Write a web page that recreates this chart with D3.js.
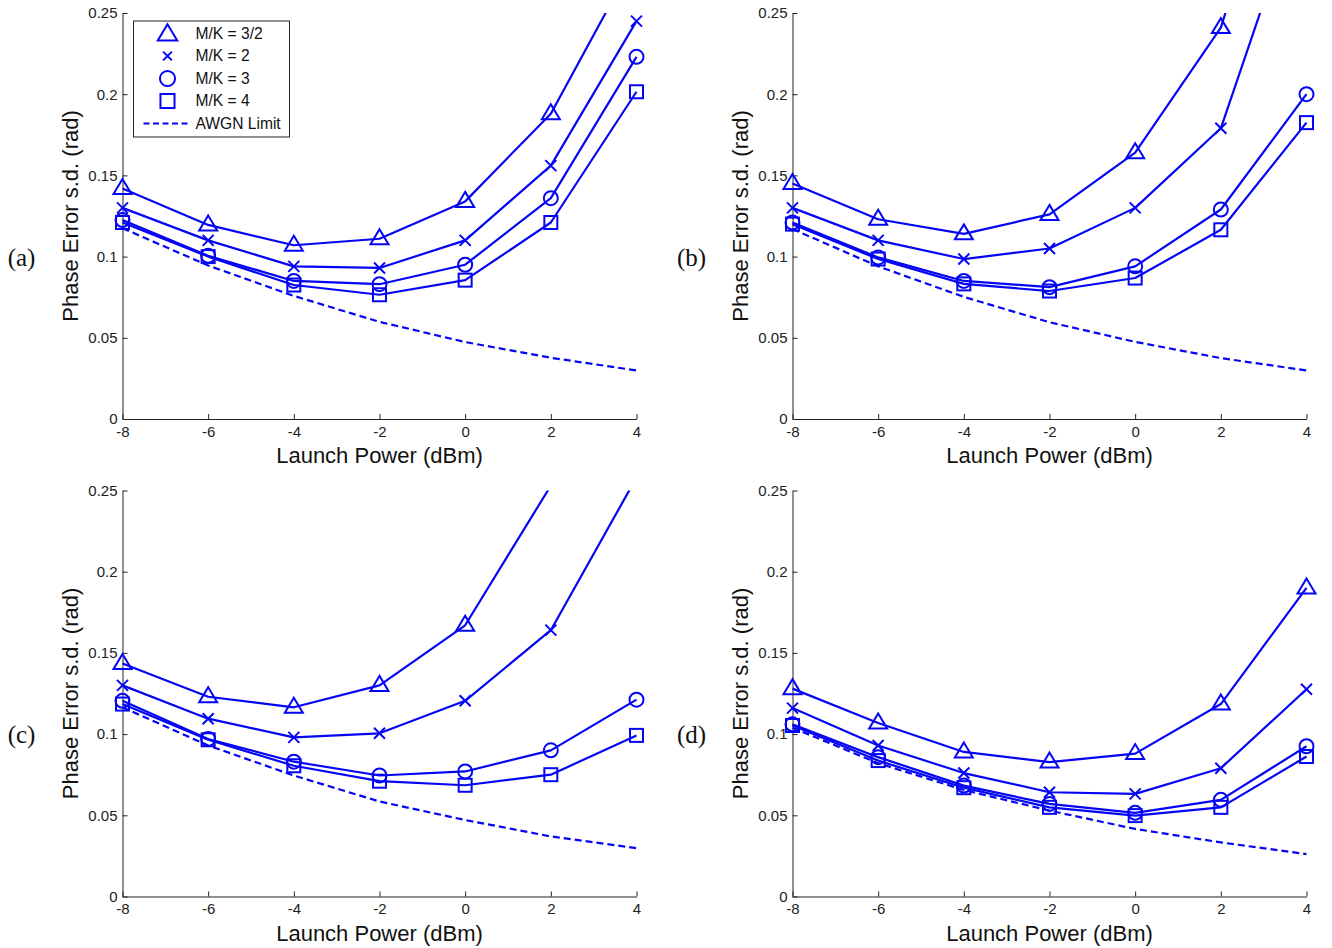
<!DOCTYPE html>
<html>
<head>
<meta charset="utf-8">
<script src="https://cdn.jsdelivr.net/npm/d3@7"></script>
<style>
  html, body { margin: 0; padding: 0; background: #fff; }
  svg { display: block; }
  .tick text { font-family: "Liberation Sans", Arial, Helvetica, sans-serif; font-size: 15px; fill: #222; }
  .axis path, .axis line { stroke: #222; stroke-width: 1; }
</style>
</head>
<body>
<svg id="chart" width="1332" height="948"></svg>
<script>
// Launch power sweep (dBm)
const powers = [-8, -6, -4, -2, 0, 2, 4];
const yTicks = [0, 0.05, 0.1, 0.15, 0.2, 0.25];
const yTickLabels = ["0", "0.05", "0.1", "0.15", "0.2", "0.25"];
const xTickLabels = ["-8", "-6", "-4", "-2", "0", "2", "4"];
const seriesNames = ["M/K = 3/2", "M/K = 2", "M/K = 3", "M/K = 4"];
const awgnName = "AWGN Limit";
const panelNames = ["(a)", "(b)", "(c)", "(d)"];

// Phase error standard deviation (rad), panel (a)
const a_mk32 = [0.142, 0.1195, 0.107, 0.111, 0.134, 0.188, 0.285];
const a_mk2  = [0.130, 0.110, 0.094, 0.093, 0.110, 0.156, 0.245];
const a_mk3  = [0.1225, 0.1005, 0.085, 0.083, 0.095, 0.136, 0.223];
const a_mk4  = [0.121, 0.100, 0.0825, 0.0765, 0.0855, 0.121, 0.2015];
const a_awgn = [0.1175, 0.0945, 0.0758, 0.0598, 0.0474, 0.0377, 0.0299];

// panel (b)
const b_mk32 = [0.145, 0.123, 0.114, 0.126, 0.164, 0.241, 0.41];
const b_mk2  = [0.130, 0.110, 0.0985, 0.105, 0.130, 0.179, 0.334];
const b_mk3  = [0.121, 0.0995, 0.085, 0.0812, 0.094, 0.129, 0.200];
const b_mk4  = [0.120, 0.0985, 0.0832, 0.0788, 0.0868, 0.1165, 0.1825];
const b_awgn = [0.1170, 0.0940, 0.0752, 0.0596, 0.0475, 0.0375, 0.0299];

// panel (c)
const c_mk32 = [0.1435, 0.123, 0.1165, 0.130, 0.167, 0.253, 0.36];
const c_mk2  = [0.130, 0.1095, 0.098, 0.1005, 0.1205, 0.164, 0.258];
const c_mk3  = [0.1205, 0.097, 0.083, 0.0745, 0.077, 0.090, 0.1212];
const c_mk4  = [0.1185, 0.0965, 0.0805, 0.071, 0.0685, 0.075, 0.0992];
const c_awgn = [0.1165, 0.093, 0.0745, 0.0585, 0.0471, 0.037, 0.0298];

// panel (d)
const d_mk32 = [0.128, 0.1068, 0.089, 0.0828, 0.088, 0.1185, 0.190];
const d_mk2  = [0.116, 0.093, 0.076, 0.0642, 0.0632, 0.079, 0.1276];
const d_mk3  = [0.106, 0.0858, 0.0683, 0.057, 0.0515, 0.0595, 0.0925];
const d_mk4  = [0.1053, 0.0837, 0.067, 0.0549, 0.0498, 0.0549, 0.0862];
const d_awgn = [0.1039, 0.0821, 0.0656, 0.0529, 0.0416, 0.0333, 0.0261];

const panels = [
  { name: panelNames[0], series: [a_mk32, a_mk2, a_mk3, a_mk4], awgn: a_awgn, left: 122.5, top: 13, legend: true },
  { name: panelNames[1], series: [b_mk32, b_mk2, b_mk3, b_mk4], awgn: b_awgn, left: 792.5, top: 13 },
  { name: panelNames[2], series: [c_mk32, c_mk2, c_mk3, c_mk4], awgn: c_awgn, left: 122.5, top: 490.5 },
  { name: panelNames[3], series: [d_mk32, d_mk2, d_mk3, d_mk4], awgn: d_awgn, left: 792.5, top: 490.5 }
];

const W = 514, H = 406;
const BLUE = "#0505f5";
const markerKinds = ["triangle", "cross", "circle", "square"];
const sansFont = '"Liberation Sans", Arial, Helvetica, sans-serif';

const svg = d3.select("#chart");

function drawMarker(g, kind, cx, cy, scale = 1) {
  const m = g.append("g").attr("transform", `translate(${cx},${cy}) scale(${scale})`)
    .attr("fill", "none").attr("stroke", BLUE).attr("stroke-width", 2 / scale);
  if (kind === "triangle") {
    m.append("path").attr("d", "M0,-9.5 L9,5.5 L-9,5.5 Z");
  } else if (kind === "cross") {
    m.append("path").attr("d", "M-5.5,-5.5 L5.5,5.5 M-5.5,5.5 L5.5,-5.5");
  } else if (kind === "circle") {
    m.append("circle").attr("r", 7);
  } else {
    m.append("rect").attr("x", -6.5).attr("y", -6.5).attr("width", 13).attr("height", 13);
  }
}

panels.forEach((p, i) => {
  const x = d3.scaleLinear().domain([-8, 4]).range([0, W]);
  const y = d3.scaleLinear().domain([0, 0.25]).range([H, 0]);
  const g = svg.append("g").attr("transform", `translate(${p.left},${p.top})`);

  const clipId = "clip" + i;
  g.append("clipPath").attr("id", clipId)
    .append("rect").attr("x", -12).attr("y", 0).attr("width", W + 24).attr("height", H + 12);

  // axes with inward ticks, left and bottom only
  g.append("g").attr("class", "axis")
    .call(d3.axisLeft(y).tickValues(yTicks).tickFormat((d, k) => yTickLabels[k])
      .tickSizeInner(-5).tickSizeOuter(0).tickPadding(5));
  g.append("g").attr("class", "axis").attr("transform", `translate(0,${H})`)
    .call(d3.axisBottom(x).tickValues(powers).tickFormat((d, k) => xTickLabels[k])
      .tickSizeInner(-5).tickSizeOuter(0).tickPadding(7));

  const plot = g.append("g").attr("clip-path", `url(#${clipId})`);
  const line = d3.line().x((d, k) => x(powers[k])).y(d => y(d));

  // AWGN reference curve
  plot.append("path").datum(p.awgn).attr("d", line)
    .attr("fill", "none").attr("stroke", BLUE).attr("stroke-width", 2.2)
    .attr("stroke-dasharray", "7,4");

  p.series.forEach((vals, s) => {
    plot.append("path").datum(vals).attr("d", line)
      .attr("fill", "none").attr("stroke", BLUE).attr("stroke-width", 2.2)
      .attr("stroke-linejoin", "round");
    vals.forEach((v, k) => {
      if (v <= 0.25) drawMarker(plot, markerKinds[s], x(powers[k]), y(v));
    });
  });

  // axis titles
  g.append("text").attr("x", W / 2).attr("y", H + 44)
    .attr("text-anchor", "middle").attr("font-family", sansFont).attr("font-size", 22)
    .attr("fill", "#111").text("Launch Power (dBm)");
  g.append("text").attr("transform", `translate(-45,${H / 2}) rotate(-90)`)
    .attr("text-anchor", "middle").attr("font-family", sansFont).attr("font-size", 22)
    .attr("fill", "#111").text("Phase Error s.d. (rad)");

  // panel tag
  g.append("text").attr("x", -101).attr("y", y(0.1) + 9)
    .attr("text-anchor", "middle").attr("font-family", '"Liberation Serif", "Times New Roman", serif')
    .attr("font-size", 25).attr("fill", "#111").text(p.name);

  if (p.legend) {
    const lg = g.append("g").attr("transform", "translate(11,8)");
    lg.append("rect").attr("x", 0).attr("y", 0).attr("width", 156).attr("height", 116)
      .attr("fill", "#fff").attr("stroke", "#222").attr("stroke-width", 1);
    const rowY = [12.5, 35, 57.5, 80, 102.5];
    seriesNames.forEach((nm, s) => {
      drawMarker(lg, markerKinds[s], 34, rowY[s] + (s === 0 ? 1 : 0), s === 1 ? 0.8 : 1.08);
      lg.append("text").attr("x", 62).attr("y", rowY[s]).attr("dy", "0.35em")
        .attr("font-family", sansFont).attr("font-size", 15.6).attr("fill", "#111").text(nm);
    });
    lg.append("line").attr("x1", 10).attr("x2", 56).attr("y1", rowY[4]).attr("y2", rowY[4])
      .attr("stroke", BLUE).attr("stroke-width", 2).attr("stroke-dasharray", "6,3.5");
    lg.append("text").attr("x", 62).attr("y", rowY[4]).attr("dy", "0.35em")
      .attr("font-family", sansFont).attr("font-size", 15.6).attr("fill", "#111").text(awgnName);
  }
});
</script>
</body>
</html>
